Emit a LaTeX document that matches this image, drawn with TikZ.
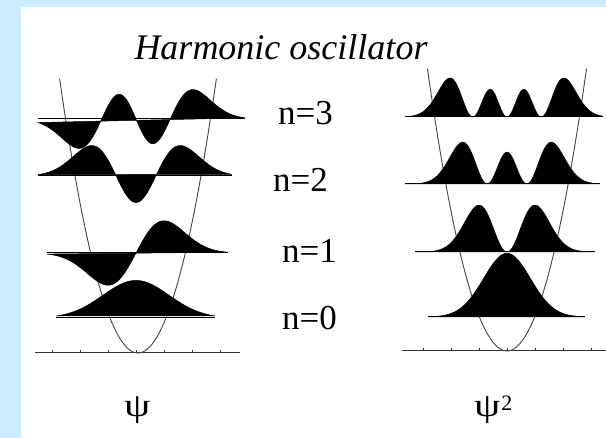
\documentclass[tikz,border=0pt]{standalone}
\usepackage{fontspec}
\setmainfont{Liberation Serif}
\usepackage{tikz}
\definecolor{bgblue}{HTML}{CCEBFF}
\definecolor{wellgray}{HTML}{444444}

\begin{document}
\begin{tikzpicture}[
  x=1pt, y=-1pt,
  wave/.style={fill=black, draw=black, line width=0.5pt},
  level/.style={draw=black, line width=1pt},
  well/.style={draw=wellgray, line width=0.9pt},
  axisline/.style={draw=black!80, line width=1pt},
  nlabel/.style={font=\fontsize{35}{40}\selectfont, inner sep=0pt, anchor=base west},
  funclabel/.style={font=\fontsize{30}{34}\selectfont, inner sep=0pt, anchor=base west}
]
\useasboundingbox (0,0) rectangle (606,438);
\fill[bgblue] (0,0) rectangle (606,438);
\fill[white] (21,7) rectangle (606,438);

\node[font=\fontsize{36}{40}\selectfont\itshape, inner sep=0pt, anchor=base] (title) at (281,60) {Harmonic oscillator};

% left panel: psi
\draw[axisline] (35,353) -- (240,353);
\foreach \t in {-3,...,3}
  \draw[axisline] ({136+28*\t},353) -- ++(0,-3);
\draw[well] plot[domain=-2.8:2.8, samples=100] ({138+28*\x},{353-35*\x*\x});
\filldraw[wave] plot[domain=-2.42:2.39, samples=150]
  ({136+33*\x},{318-50*0.7511*exp(-\x*\x/2)}) -- cycle;
\filldraw[wave] plot[domain=-3.18:3.29, samples=150]
  ({136+28*\x},{253-50*0.5311*2*\x*exp(-\x*\x/2)}) -- cycle;
\filldraw[wave] plot[domain=-3.5:3.43, samples=150]
  ({136+28*\x},{176-50*0.2656*(4*\x*\x-2)*exp(-\x*\x/2)}) -- cycle;
\filldraw[wave] plot[domain=-3.5:3.9, samples=180]
  ({136+28*\x},{119-50*0.1084*(8*\x*\x*\x-12*\x)*exp(-\x*\x/2)}) -- cycle;
\draw[level] (56,318) -- (215,318);
\draw[level] (47,253) -- (228,253);
\draw[level] (38,176) -- (232,176);
\draw[level] (38,119) -- (245,119);

% level labels
\node[nlabel] (n3) at (278,125) {n=3};
\node[nlabel] (n2) at (273,192) {n=2};
\node[nlabel] (n1) at (282,263) {n=1};
\node[nlabel] (n0) at (282,330) {n=0};

% right panel: psi squared
\draw[axisline] (402,351) -- (606,351);
\foreach \t in {-3,...,3}
  \draw[axisline] ({507+28*\t},351) -- ++(0,-3);
\draw[well] plot[domain=-2.84:2.84, samples=100] ({507+28*\x},{351-35*\x*\x});
\filldraw[wave] plot[domain=-2.39:2.36, samples=150]
  ({507+33*\x},{317-113*0.5642*exp(-\x*\x)}) -- cycle;
\filldraw[wave] plot[domain=-3.29:3.14, samples=150]
  ({507+28*\x},{252-113*0.2821*4*\x*\x*exp(-\x*\x)}) -- cycle;
\filldraw[wave] plot[domain=-3.64:3.32, samples=150]
  ({507+28*\x},{184-113*0.07052*((4*\x*\x-2)*exp(-\x*\x/2))*((4*\x*\x-2)*exp(-\x*\x/2))}) -- cycle;
\filldraw[wave] plot[domain=-3.64:3.43, samples=180]
  ({507+28*\x},{117-113*0.01175*((8*\x*\x*\x-12*\x)*exp(-\x*\x/2))*((8*\x*\x*\x-12*\x)*exp(-\x*\x/2))}) -- cycle;
\draw[level] (428,317) -- (585,317);
\draw[level] (415,252) -- (595,252);
\draw[level] (405,184) -- (600,184);
\draw[level] (405,117) -- (603,117);

% function labels
\node[funclabel] (psi) at (124,417) {\scalebox{1.4}[1.1]{ψ}};
\node[funclabel] (psisq) at (474,417) {\scalebox{1.4}[1.1]{ψ}\hspace{1pt}\raisebox{6pt}{\fontsize{22}{24}\selectfont 2}};
\end{tikzpicture}
\end{document}
